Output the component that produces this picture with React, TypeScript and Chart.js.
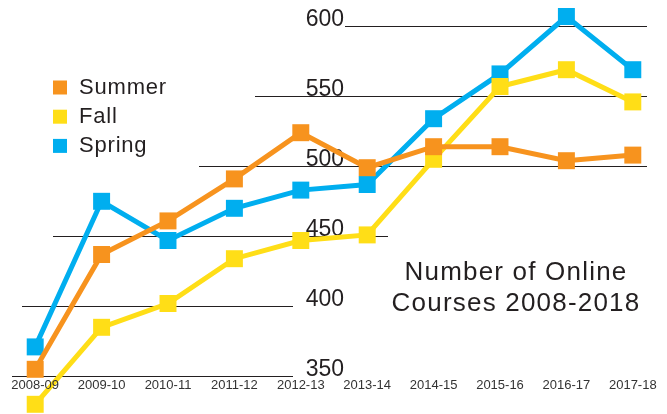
import { useEffect, useRef } from 'react';
import { Chart, registerables } from 'chart.js';

Chart.register(...registerables);

const categories = ['2008-09', '2009-10', '2010-11', '2011-12', '2012-13', '2013-14', '2014-15', '2015-16', '2016-17', '2017-18'];
const summer = [355, 437, 461, 491, 524, 499, 514, 514, 504, 508];
const fall = [330, 385, 402, 434, 447, 451, 505, 557, 569, 546];
const spring = [371, 475, 447, 470, 483, 487, 534, 566, 607, 569];
const yTicks = [350, 400, 450, 500, 550, 600];
const seriesNames = ['Summer', 'Fall', 'Spring'];
const titleLines = ['Number of Online', 'Courses 2008-2018'];

const COLORS = ['#F7931E', '#FFDE17', '#00AEEF'];
const INK = '#231F20';
const FONT = '"Liberation Sans", Arial, Helvetica, sans-serif';
// horizontal extent (px) of each staggered gridline
const GRID_SPANS: Record<number, [number, number]> = {
  600: [345, 647],
  550: [255, 647],
  500: [199, 647],
  450: [53, 388],
  400: [22, 293],
  350: [12, 293],
};

const decor = {
  id: 'decor',
  beforeDatasetsDraw(chart: any) {
    const ctx = chart.ctx as CanvasRenderingContext2D;
    const y = chart.scales.y;
    ctx.save();
    ctx.strokeStyle = INK;
    ctx.lineWidth = 1.2;
    ctx.fillStyle = INK;
    ctx.font = `23px ${FONT}`;
    ctx.textAlign = 'right';
    ctx.textBaseline = 'alphabetic';
    yTicks.forEach((v) => {
      const py = Math.round(y.getPixelForValue(v)) + 0.5;
      const [x0, x1] = GRID_SPANS[v];
      ctx.beginPath();
      ctx.moveTo(x0, py);
      ctx.lineTo(x1, py);
      ctx.stroke();
      ctx.fillText(String(v), 344, py - 1);
    });
    ctx.restore();
  },
  afterDatasetsDraw(chart: any) {
    const ctx = chart.ctx as CanvasRenderingContext2D;
    const x = chart.scales.x;
    ctx.save();
    // category labels
    ctx.font = `13px ${FONT}`;
    ctx.fillStyle = '#333333';
    ctx.textAlign = 'center';
    ctx.textBaseline = 'middle';
    categories.forEach((c, i) => {
      ctx.fillText(c, x.getPixelForValue(i), 385.5);
    });
    // legend
    ctx.font = `22px ${FONT}`;
    (ctx as any).letterSpacing = '0.8px';
    ctx.textAlign = 'left';
    ctx.textBaseline = 'alphabetic';
    seriesNames.forEach((name, i) => {
      const cy = 87.5 + i * 29.2;
      ctx.fillStyle = COLORS[i];
      ctx.fillRect(53, cy - 7, 14, 14);
      ctx.fillStyle = INK;
      ctx.fillText(name, 79, cy + 6);
    });
    // title
    ctx.font = `26px ${FONT}`;
    (ctx as any).letterSpacing = '1.2px';
    ctx.textAlign = 'center';
    ctx.fillStyle = INK;
    titleLines.forEach((line, i) => {
      ctx.fillText(line, 516, 280 + i * 31);
    });
    ctx.restore();
  },
};

export default function App() {
  const ref = useRef<HTMLCanvasElement>(null);
  useEffect(() => {
    if (!ref.current) return;
    const mk = (label: string, data: number[], color: string) => ({
      label,
      data,
      borderColor: color,
      backgroundColor: color,
      pointBackgroundColor: color,
      pointBorderColor: color,
      borderWidth: 5,
      pointStyle: 'rect' as const,
      pointRadius: 12,
      pointBorderWidth: 0,
      tension: 0,
      clip: false as any,
    });
    const chart = new Chart(ref.current, {
      type: 'line',
      data: {
        labels: categories,
        datasets: [
          mk(seriesNames[0], summer, COLORS[0]),
          mk(seriesNames[1], fall, COLORS[1]),
          mk(seriesNames[2], spring, COLORS[2]),
        ],
      },
      options: {
        animation: false,
        responsive: false,
        maintainAspectRatio: false,
        devicePixelRatio: 1,
        layout: { autoPadding: false, padding: { left: 2, right: 1, top: 0, bottom: 0 } },
        plugins: { legend: { display: false }, tooltip: { enabled: false }, title: { display: false } },
        scales: {
          x: { type: 'category', offset: true, display: false },
          y: { type: 'linear', min: 323.07, max: 618.79, display: false },
        },
      },
      plugins: [decor],
    });
    return () => chart.destroy();
  }, []);
  return (
    <div style={{ position: 'fixed', left: 0, top: 0, width: 667, height: 414, background: '#fff' }}>
      <canvas ref={ref} width={667} height={414} style={{ display: 'block' }} />
    </div>
  );
}
